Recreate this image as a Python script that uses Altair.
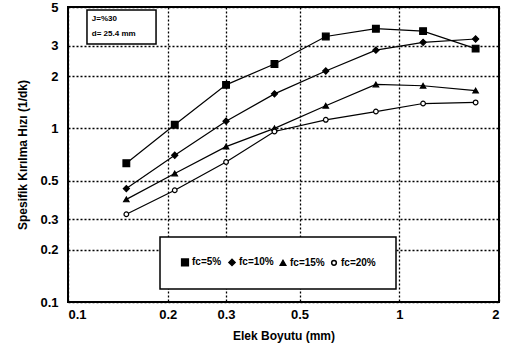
import altair as alt
import pandas as pd

sizes = [0.15, 0.21, 0.3, 0.42, 0.6, 0.85, 1.18, 1.7]
fc5 = [0.63, 1.05, 1.78, 2.35, 3.38, 3.75, 3.63, 2.88]
fc10 = [0.45, 0.70, 1.10, 1.58, 2.14, 2.82, 3.13, 3.27]
fc15 = [0.39, 0.55, 0.785, 1.0, 1.35, 1.79, 1.76, 1.65]
fc20 = [0.32, 0.44, 0.64, 0.96, 1.12, 1.25, 1.39, 1.41]
series_names = ["fc=5%", "fc=10%", "fc=15%", "fc=20%"]

x_ticks = [0.1, 0.2, 0.3, 0.5, 1, 2]
y_ticks = [0.1, 0.2, 0.3, 0.5, 1, 2, 3, 5]

note_lines = ["J=%30", "d= 25.4 mm"]

rows = []
for name, vals in zip(series_names, [fc5, fc10, fc15, fc20]):
    for s, v in zip(sizes, vals):
        rows.append({"size": s, "rate": v, "series": name})
df = pd.DataFrame(rows)

FONT = "Liberation Sans"

xscale = alt.Scale(type="log", domain=[0.1, 2], nice=False)
yscale = alt.Scale(type="log", domain=[0.1, 5], nice=False)

xaxis = alt.Axis(values=x_ticks, format="~g", title="Elek Boyutu (mm)",
                 grid=True, gridDash=[2, 2], gridColor="black", gridOpacity=1, gridWidth=1.3,
                 domain=False, ticks=False, labelPadding=6,
                 labelFont=FONT, labelFontSize=13, labelFontWeight="bold", labelColor="black",
                 titleFont=FONT, titleFontSize=12, titleFontWeight="bold", titleColor="black",
                 titlePadding=9)
yaxis = alt.Axis(values=y_ticks, format="~g", title="Spesifik Kırılma Hızı (1/dk)",
                 grid=True, gridDash=[2, 2], gridColor="black", gridOpacity=1, gridWidth=1.3,
                 domain=False, ticks=False, labelPadding=10,
                 labelFont=FONT, labelFontSize=13, labelFontWeight="bold", labelColor="black",
                 titleFont=FONT, titleFontSize=12, titleFontWeight="bold", titleColor="black",
                 titlePadding=10)

color_scale = alt.Scale(domain=series_names, range=["black"] * 4)
shape_scale = alt.Scale(domain=series_names, range=["square", "diamond", "triangle-up", "circle"])
fill_scale = alt.Scale(domain=series_names, range=["black", "black", "black", "white"])
size_scale = alt.Scale(domain=series_names, range=[45, 22, 28, 35])

legend = alt.Legend(title=None, orient="none", legendX=92, legendY=230, direction="horizontal",
                    columns=4, strokeColor="black", fillColor="white",
                    padding=20, columnPadding=3, symbolStrokeColor="black", symbolOffset=0,
                    labelOffset=2,
                    labelFont=FONT, labelFontSize=10, labelFontWeight="bold", labelColor="black")

base = alt.Chart(df)
lines = base.mark_line(color="black", strokeWidth=1.2).encode(
    x=alt.X("size:Q", scale=xscale, axis=xaxis),
    y=alt.Y("rate:Q", scale=yscale, axis=yaxis),
    detail="series:N",
)
points = base.mark_point(filled=False, strokeWidth=1.2, opacity=1).encode(
    x=alt.X("size:Q", scale=xscale),
    y=alt.Y("rate:Q", scale=yscale),
    shape=alt.Shape("series:N", scale=shape_scale, legend=legend, sort=series_names),
    fill=alt.Fill("series:N", scale=fill_scale, legend=legend, sort=series_names),
    stroke=alt.Stroke("series:N", scale=color_scale, legend=legend, sort=series_names),
    size=alt.Size("series:N", scale=size_scale, legend=legend, sort=series_names),
)

note_box_df = pd.DataFrame({"x": [0.1141], "x2": [0.1844], "y": [3.06], "y2": [4.81]})
note_box = alt.Chart(note_box_df).mark_rect(fill="white", stroke="black", strokeWidth=1.5).encode(
    x=alt.X("x:Q", scale=xscale), x2="x2:Q",
    y=alt.Y("y:Q", scale=yscale), y2="y2:Q",
)
note_df = pd.DataFrame({"x": [0.118, 0.118], "y": [4.25, 3.5], "t": note_lines})
note_text = alt.Chart(note_df).mark_text(align="left", baseline="middle", font=FONT,
                                          fontSize=8, fontWeight="bold", color="black").encode(
    x=alt.X("x:Q", scale=xscale), y=alt.Y("y:Q", scale=yscale), text="t:N"
)

chart = alt.layer(lines, points, note_box, note_text).properties(
    width=431, height=295,
    autosize=alt.AutoSizeParams(type="none"),
    padding={"left": 68, "top": 7, "right": 7, "bottom": 51},
    background="white",
).configure_view(stroke="black", strokeWidth=2).configure_legend(strokeWidth=1.5)

chart.save("out.html", embed_options={"renderer": "svg", "actions": False})
